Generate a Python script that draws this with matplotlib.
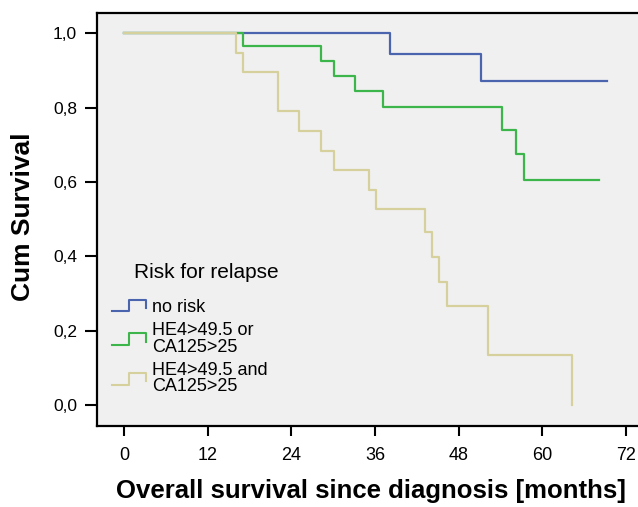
import matplotlib
matplotlib.use("Agg")
import matplotlib.pyplot as plt
from matplotlib.lines import Line2D
from matplotlib.legend_handler import HandlerBase

plt.rcParams['font.family'] = ['Liberation Sans', 'DejaVu Sans']

# Kaplan-Meier steps (months, cumulative survival)
t_norisk = [0, 38.2, 51.2, 69.2]
s_norisk = [1.0, 0.945, 0.872, 0.872]

t_or = [0, 17.1, 28.2, 30.1, 33.1, 37.2, 54.2, 56.2, 57.3, 68.1]
s_or = [1.0, 0.965, 0.926, 0.886, 0.846, 0.803, 0.741, 0.674, 0.605, 0.605]

t_and = [0, 16.1, 17.1, 22.1, 25.1, 28.2, 30.1, 35.2, 36.1, 43.2, 44.2,
         45.2, 46.3, 52.2, 64.3]
s_and = [1.0, 0.948, 0.895, 0.790, 0.736, 0.684, 0.631, 0.578, 0.526,
         0.464, 0.397, 0.331, 0.266, 0.133, 0.0]

labels = ["no risk", "HE4>49.5 or\nCA125>25", "HE4>49.5 and\nCA125>25"]
colors = ["#4a64ae", "#3cb64b", "#d6d09c"]

x_ticks = [0, 12, 24, 36, 48, 60, 72]
y_ticks = [0.0, 0.2, 0.4, 0.6, 0.8, 1.0]
y_ticklabels = ["0,0", "0,2", "0,4", "0,6", "0,8", "1,0"]


class StepHandler(HandlerBase):
    # little step-shaped legend key like SPSS draws
    def create_artists(self, legend, orig_handle, xdescent, ydescent,
                       width, height, fontsize, trans):
        w, h = width, height
        xs = [0, 0.5 * w, 0.5 * w, w, w]
        ys = [0.05 * h, 0.05 * h, 0.95 * h, 0.95 * h, 0.3 * h]
        ln = Line2D([x - xdescent for x in xs], [y - ydescent for y in ys],
                    color=orig_handle.get_color(), lw=1.5)
        ln.set_transform(trans)
        return [ln]


fig = plt.figure(figsize=(6.38, 5.07), dpi=100)
ax = fig.add_axes([0.1525, 0.1604, 0.8726, 0.8134])
ax.set_facecolor("#f0f0f0")

lines = []
for t, s, c in zip([t_norisk, t_or, t_and], [s_norisk, s_or, s_and], colors):
    ln, = ax.step(t, s, where="post", color=c, lw=1.6)
    lines.append(ln)

ax.set_xlim(-3.83, 76)
ax.set_ylim(-0.056, 1.054)
ax.set_xticks(x_ticks)
ax.set_yticks(y_ticks)
ax.set_yticklabels(y_ticklabels)
ax.tick_params(axis="x", length=7.5, width=1.5, pad=8, labelsize=13)
ax.tick_params(axis="y", length=8.5, width=1.5, pad=6, labelsize=12.5)
for side in ["left", "top", "bottom"]:
    ax.spines[side].set_linewidth(1.6)
ax.spines["right"].set_visible(False)

fig.text(23 / 638, 1 - 216.5 / 507, "Cum Survival", rotation=90,
         ha="center", va="center", fontsize=19, fontweight="bold")
fig.text(371.5 / 638, 1 - 491 / 507,
         "Overall survival since diagnosis [months]",
         ha="center", va="center", fontsize=18.5, fontweight="bold")

fig.text(134 / 638, 1 - 272 / 507, "Risk for relapse", ha="left",
         va="center", fontsize=15)
leg = ax.legend(lines, labels, handler_map={Line2D: StepHandler()},
                loc="upper left", bbox_to_anchor=(112 / 638, 1 - 299 / 507),
                bbox_transform=fig.transFigure, frameon=False, fontsize=13,
                borderpad=0, borderaxespad=0, handlelength=1.9,
                handletextpad=0.3, labelspacing=0.35)
for txt in leg.get_texts():
    txt.set_linespacing(0.95)

fig.savefig("out.png", dpi=100)
plt.close(fig)
